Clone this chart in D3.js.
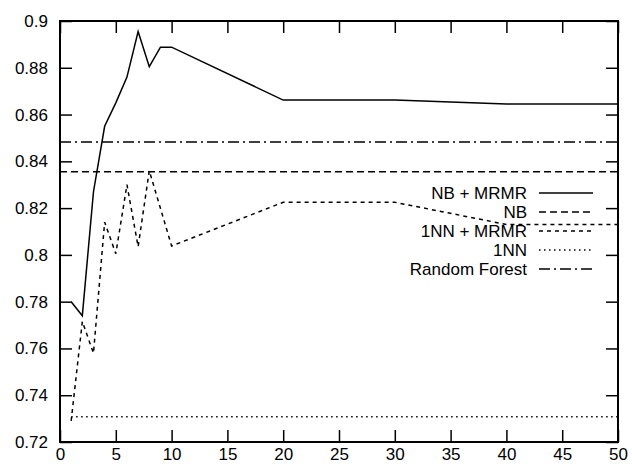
<!DOCTYPE html>
<html>
<head>
<meta charset="utf-8">
<script src="https://cdn.jsdelivr.net/npm/d3@7"></script>
<style>
  body { margin: 0; background: #fff; }
  text { font-family: "Liberation Sans", Arial, sans-serif; font-size: 17px; fill: #000; }
</style>
</head>
<body>
<div id="chart"></div>
<script>
// data
var xs = [1, 2, 3, 4, 5, 6, 7, 8, 9, 10, 20, 30, 40, 50];
var nbMrmr = [0.780, 0.774, 0.827, 0.855, 0.865, 0.876, 0.8955, 0.8805, 0.8888, 0.8888, 0.8662, 0.8662, 0.8645, 0.8645];
var xsNN = [1, 2, 3, 4, 5, 6, 7, 8, 10, 20, 30, 40, 50];
var nnMrmr = [0.729, 0.7715, 0.758, 0.814, 0.8005, 0.830, 0.8035, 0.836, 0.8038, 0.8225, 0.8225, 0.813, 0.813];
var nbFlat = 0.8355;
var nnFlat = 0.7308;
var rfFlat = 0.8483;
var xTicks = [0, 5, 10, 15, 20, 25, 30, 35, 40, 45, 50];
var yTicks = [0.72, 0.74, 0.76, 0.78, 0.8, 0.82, 0.84, 0.86, 0.88, 0.9];

var margin = {top: 21, right: 14, bottom: 26, left: 60},
    width = 632 - margin.left - margin.right,
    height = 468 - margin.top - margin.bottom;

var svg = d3.select("#chart")
  .append("svg")
    .attr("width", 632)
    .attr("height", 468)
  .append("g")
    .attr("transform", "translate(" + margin.left + "," + margin.top + ")");

var x = d3.scaleLinear().domain([0, 50]).range([0, width]);
var y = d3.scaleLinear().domain([0.72, 0.9]).range([height, 0]);

// ticks, inward on all four sides
var tl = 12;
svg.append("g")
  .attr("transform", "translate(0," + height + ")")
  .call(d3.axisBottom(x).tickValues(xTicks).tickSizeInner(-tl).tickSizeOuter(0).tickPadding(6))
  .call(function(g) { g.select(".domain").remove(); });
svg.append("g")
  .call(d3.axisTop(x).tickValues(xTicks).tickSizeInner(-tl).tickSizeOuter(0).tickFormat(""))
  .call(function(g) { g.select(".domain").remove(); });
svg.append("g")
  .call(d3.axisLeft(y).tickValues(yTicks).tickSizeInner(-tl).tickSizeOuter(0).tickPadding(12).tickFormat(d3.format("")))
  .call(function(g) { g.select(".domain").remove(); });
svg.append("g")
  .attr("transform", "translate(" + width + ",0)")
  .call(d3.axisRight(y).tickValues(yTicks).tickSizeInner(-tl).tickSizeOuter(0).tickFormat(""))
  .call(function(g) { g.select(".domain").remove(); });

svg.selectAll(".tick line").attr("stroke", "#000").attr("stroke-width", 1.5);
svg.selectAll(".tick text").style("font-size", "17px").style("font-family", "Liberation Sans, Arial, sans-serif");

var line = d3.line().x(function(d) { return x(d[0]); }).y(function(d) { return y(d[1]); });

var series = [
  {name: "NB + MRMR", pts: xs.map(function(v, i) { return [v, nbMrmr[i]]; }), dash: null},
  {name: "NB", pts: [[0, nbFlat], [50, nbFlat]], dash: "7,4"},
  {name: "1NN + MRMR", pts: xsNN.map(function(v, i) { return [v, nnMrmr[i]]; }), dash: "4,4"},
  {name: "1NN", pts: [[1, nnFlat], [50, nnFlat]], dash: "1.5,3.5"},
  {name: "Random Forest", pts: [[0, rfFlat], [50, rfFlat]], dash: "11,4,2,4"}
];

svg.selectAll("path.series")
  .data(series)
  .enter()
  .append("path")
    .attr("class", "series")
    .attr("d", function(d) { return line(d.pts); })
    .attr("fill", "none")
    .attr("stroke", "#000")
    .attr("stroke-width", 1.5)
    .attr("stroke-dasharray", function(d) { return d.dash; });

// legend
var lx = 527 - margin.left, ly = 193 - margin.top, ls = 19;
var leg = svg.append("g");
series.forEach(function(s, i) {
  leg.append("text")
    .attr("x", lx)
    .attr("y", ly + i * ls)
    .attr("dy", "0.35em")
    .attr("text-anchor", "end")
    .text(s.name);
  leg.append("line")
    .attr("x1", lx + 12).attr("x2", lx + 66)
    .attr("y1", ly + i * ls).attr("y2", ly + i * ls)
    .attr("stroke", "#000")
    .attr("stroke-width", 1.5)
    .attr("stroke-dasharray", s.dash);
});

// frame
svg.append("rect")
  .attr("width", width)
  .attr("height", height)
  .attr("fill", "none")
  .attr("stroke", "#000")
  .attr("stroke-width", 2);
</script>
</body>
</html>
